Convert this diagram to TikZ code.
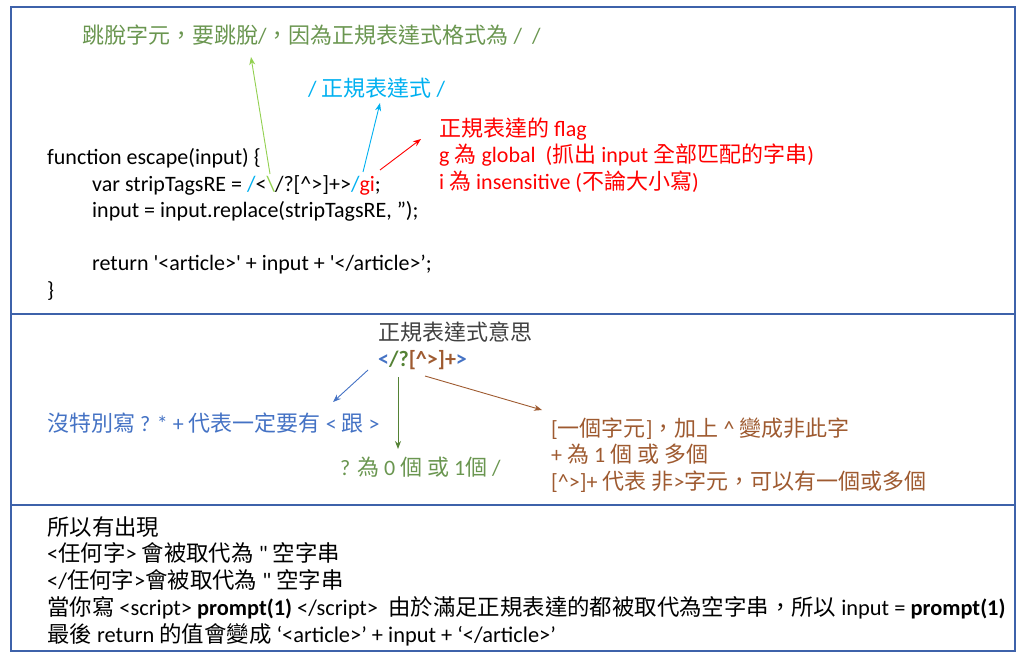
\documentclass[tikz,border=0pt]{standalone}
\usepackage{fontspec}
\usetikzlibrary{arrows.meta}
\newfontfamily\latinfont{Carlito}
\newfontfamily\zhfont{Noto Sans CJK TC}
\newcommand{\zh}[1]{{\zhfont #1}}
\definecolor{framec}{RGB}{62,98,170}
\definecolor{titlegreen}{RGB}{106,150,80}
\definecolor{arrowgreen}{RGB}{146,208,80}
\definecolor{skyblue}{RGB}{0,176,240}
\definecolor{regblue}{RGB}{68,114,196}
\definecolor{qgreen}{RGB}{84,130,53}
\definecolor{rust}{RGB}{158,90,48}
\definecolor{inkgray}{RGB}{64,64,64}

\begin{document}
\begin{tikzpicture}[
    x=1pt, y=-1pt,
    txt/.style={anchor=base west, inner sep=0pt, align=left, text=#1, font=\latinfont\fontsize{22}{26.5}\selectfont},
    txt/.default=black,
    pointer/.style={-{Stealth[length=8pt,width=6pt]}, line width=0.9pt, color=#1},
    panel/.style={draw=framec, line width=2.4pt}
]
    \useasboundingbox (0,0) rectangle (1024,658);

    % Cadres
    \draw[panel] (11,7) rectangle (1015,314);
    \draw[panel] (11,314) rectangle (1015,505);
    \draw[panel] (11,505) rectangle (1015,651);

    % Partie 1 : le code (multi-ligne : ancre sur la derniere ligne)
    \node[txt=titlegreen] (escnote) at (82,44) {\zh{跳脫字元，要跳脫}/\zh{，因為正規表達式格式為} /\ \ /};
    \node[txt=skyblue] (renote) at (308,96) {/ \zh{正規表達式} /};
    \node[txt=red] (flagnote) at (439,189) {\zh{正規表達的} flag\\
        g \zh{為} global\ \ (\zh{抓出} input \zh{全部匹配的字串})\\
        i \zh{為} insensitive (\zh{不論大小寫})};
    \node[txt] (code) at (47,297) {function escape(input) \{\\
        \hspace*{45pt}var stripTagsRE = \textcolor{skyblue}{/}<\textcolor{arrowgreen}{\textbackslash}/?[\textasciicircum>]+>\textcolor{skyblue}{/}\textcolor{red}{gi};\\
        \hspace*{45pt}input = input.replace(stripTagsRE, ”);\\[26.5pt]
        \hspace*{45pt}return '<article>' + input + '</article>’;\\
        \}};

    \coordinate (bslash) at (270,174);
    \coordinate (bslashtip) at (251,57);
    \coordinate (slash) at (363,172);
    \coordinate (slashtip) at (380,103);
    \coordinate (gi) at (380,170);
    \coordinate (gitip) at (421,139);
    \draw[pointer=arrowgreen] (bslash) -- (bslashtip);
    \draw[pointer=skyblue] (slash) -- (slashtip);
    \draw[pointer=red] (gi) -- (gitip);

    % Partie 2 : sens de l'expression
    \node[txt=inkgray] (meaning) at (378,340) {\zh{正規表達式意思}};
    \node[txt, font=\latinfont\bfseries\fontsize{22}{26.5}\selectfont] (pattern) at (378,366) {\textcolor{regblue}{<}\textcolor{qgreen}{/?}\textcolor{rust}{[\textasciicircum>]+}\textcolor{regblue}{>}};
    \node[txt=regblue] (ltgt) at (47,431) {\zh{沒特別寫} ? * + \zh{代表一定要有} < \zh{跟} >};
    \node[txt=titlegreen] (qmark) at (340,475) {? \zh{為} 0 \zh{個} \zh{或} 1\zh{個} /};
    \node[txt=rust] (klass) at (551,489) {{[}\zh{一個字元}]\zh{，加上} \textasciicircum{} \zh{變成非此字}\\
        + \zh{為} 1 \zh{個} \zh{或} \zh{多個}\\
        {[}\textasciicircum>]+ \zh{代表} \zh{非}>\zh{字元，可以有一個或多個}};

    \coordinate (lt) at (368,370);
    \coordinate (lttip) at (333,402);
    \coordinate (qm) at (398,377);
    \coordinate (qmtip) at (398,449);
    \coordinate (br) at (425,376);
    \coordinate (brtip) at (542,410);
    \draw[pointer=regblue] (lt) -- (lttip);
    \draw[pointer=qgreen] (qm) -- (qmtip);
    \draw[pointer=rust] (br) -- (brtip);

    % Partie 3 : conclusion
    \node[txt, font=\latinfont\fontsize{22.4}{26.75}\selectfont] (summary) at (47,642) {\zh{所以有出現}\\
        <\zh{任何字}> \zh{會被取代為} " \zh{空字串}\\
        </\zh{任何字}>\zh{會被取代為} " \zh{空字串}\\
        \zh{當你寫} <script> \textbf{prompt(1)} </script>\ \ \zh{由於滿足正規表達的都被取代為空字串，所以} input = \textbf{prompt(1)}\\
        \zh{最後} return \zh{的值會變成} ‘<article>’ + input + ‘</article>’};
\end{tikzpicture}
\end{document}
